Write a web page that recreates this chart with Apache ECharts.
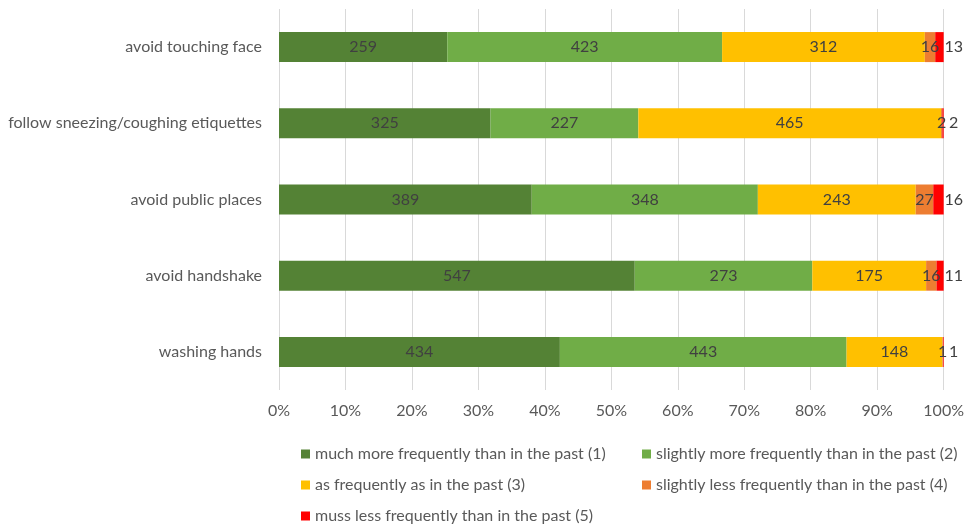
<!DOCTYPE html>
<html><head><meta charset="utf-8">
<script src="https://cdn.jsdelivr.net/npm/echarts@6/dist/echarts.min.js"></script>
<style>html,body{margin:0;padding:0;background:#fff}#c{width:967px;height:525px}</style>
</head><body><div id="c"></div>
<script>
const categories = ["washing hands","avoid handshake","avoid public places","follow sneezing/coughing etiquettes","avoid touching face"];
const seriesNames = ["much more frequently than in the past (1)","slightly more frequently than in the past (2)","as frequently as in the past (3)","slightly less frequently than in the past (4)","muss less frequently than in the past (5)"];
const s1 = [434,547,389,325,259];
const s2 = [443,273,348,227,423];
const s3 = [148,175,243,465,312];
const s4 = [1,16,27,2,16];
const s5 = [1,11,16,2,13];
const xTicks = [0,10,20,30,40,50,60,70,80,90,100];
const colors = ["#548235","#70AD47","#FFC000","#ED7D31","#FF0000"];

const raw = [s1,s2,s3,s4,s5];
const totals = categories.map((_,i)=>raw.reduce((a,s)=>a+s[i],0));
const font = "Lato";
const fs = 16;
const series = raw.map((arr,k)=>({
  name: seriesNames[k], type:'bar', stack:'t', barWidth:30,
  itemStyle:{color:colors[k]},
  data: arr.map((v,i)=>({value: v/totals[i]*100, raw:v})),
  label: k===4
    ? {show:true, position:'right', distance:10, align:'center',
       color:'#404040', fontFamily:font, fontSize:fs, formatter:p=>p.data.raw}
    : {show:true, position:'inside',
       color:'#404040', fontFamily:font, fontSize:fs, formatter:p=>p.data.raw}
}));
const legendPos = [[296,441],[637,441],[296,472],[637,472],[296,503]];
const legends = seriesNames.map((n,k)=>({
  data:[n], left:legendPos[k][0], top:legendPos[k][1], itemWidth:9, itemHeight:9,
  icon:'rect', textStyle:{color:'#595959',fontFamily:font,fontSize:fs}
}));
const chart = echarts.init(document.getElementById('c'));
chart.setOption({
  animation:false,
  grid:{left:279,right:21,top:9,bottom:135,containLabel:false},
  xAxis:{type:'value',min:0,max:100,interval:10,
    axisLine:{show:false},axisTick:{show:false},
    splitLine:{lineStyle:{color:'#d9d9d9'}},
    axisLabel:{formatter:v=>v+'%',color:'#595959',fontFamily:font,fontSize:fs,margin:13}},
  yAxis:{type:'category',data:categories,
    axisLine:{show:false},axisTick:{show:false},
    axisLabel:{color:'#595959',fontFamily:font,fontSize:fs,margin:17}},
  legend:legends,
  series
});
</script></body></html>
